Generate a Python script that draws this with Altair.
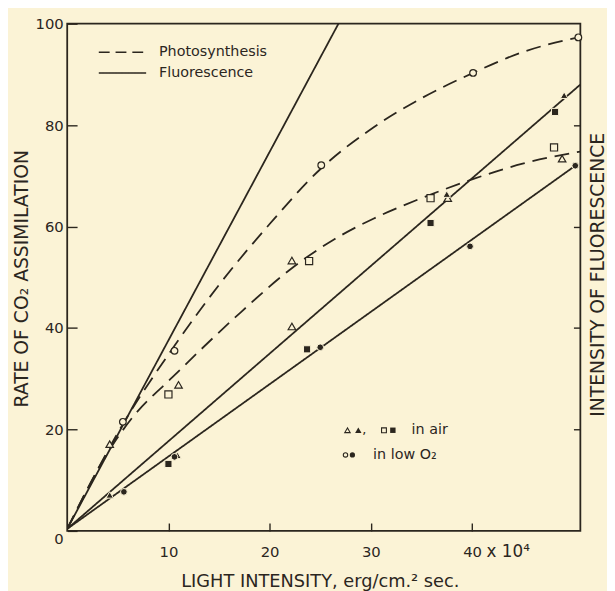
import altair as alt
import pandas as pd

# ---------------- data (light intensity in 10^4 erg/cm2 sec) ----------------
# curves
fl_steep_x = [0, 26.8]
fl_steep_y = [0.4, 100.0]
fl_air_x = [0, 50.7]
fl_air_y = [0.4, 88.0]
fl_lowo2_x = [0, 50.2]
fl_lowo2_y = [0.4, 72.0]
ps_lowo2_x = [0, 5.4, 10.6, 15.0, 20.0, 25.0, 30.0, 35.0, 40.0, 45.0, 50.5]
ps_lowo2_y = [0.4, 20.7, 36.5, 48.5, 60.5, 71.3, 79.2, 85.3, 90.2, 94.4, 97.3]
ps_air_x = [0, 4.5, 6.5, 10.4, 17.2, 22.0, 26.4, 30.3, 35.0, 40.0, 45.0, 50.7]
ps_air_y = [0.4, 17.0, 22.5, 30.3, 43.2, 51.5, 57.5, 61.6, 65.6, 69.3, 72.4, 74.8]

# measured points
open_tri_x = [4.2, 11.0, 22.2, 22.2, 37.6, 48.9]
open_tri_y = [17.1, 28.8, 53.3, 40.3, 65.6, 73.4]
open_sq_x = [10.0, 23.9, 35.9, 48.1]
open_sq_y = [26.9, 53.2, 65.6, 75.6]
open_circ_x = [5.5, 10.6, 25.1, 40.1, 50.5]
open_circ_y = [21.5, 35.5, 72.1, 90.3, 97.3]
fill_tri_x = [4.2, 10.9, 37.5, 49.1]
fill_tri_y = [7.1, 14.9, 66.4, 85.9]
fill_sq_x = [10.0, 23.7, 35.9, 48.2]
fill_sq_y = [13.2, 35.8, 60.7, 82.6]
fill_circ_x = [5.6, 10.6, 25.0, 39.8, 50.2]
fill_circ_y = [7.7, 14.6, 36.2, 56.1, 72.0]

x_ticks = [10, 20, 30, 40]
y_ticks = [0, 20, 40, 60, 80, 100]
right_ticks = [20, 40, 60, 80]

# ---------------- tables ----------------
curves = [
    ("fl_steep", "Fluorescence", fl_steep_x, fl_steep_y),
    ("fl_air", "Fluorescence", fl_air_x, fl_air_y),
    ("fl_lowo2", "Fluorescence", fl_lowo2_x, fl_lowo2_y),
    ("ps_lowo2", "Photosynthesis", ps_lowo2_x, ps_lowo2_y),
    ("ps_air", "Photosynthesis", ps_air_x, ps_air_y),
]
rows = []
for name, kind, xs, ys in curves:
    for i, (a, b) in enumerate(zip(xs, ys)):
        rows.append({"curve": name, "kind": kind, "x": a, "y": b, "o": i})
lines_df = pd.DataFrame(rows)

pts = []
for shape, fill, xs, ys in [
    ("triangle-up", "open", open_tri_x, open_tri_y),
    ("square", "open", open_sq_x, open_sq_y),
    ("circle", "open", open_circ_x, open_circ_y),
    ("triangle-up", "filled", fill_tri_x, fill_tri_y),
    ("square", "filled", fill_sq_x, fill_sq_y),
    ("circle", "filled", fill_circ_x, fill_circ_y),
]:
    for a, b in zip(xs, ys):
        pts.append({"shape": shape, "fill": fill, "x": a, "y": b})
pts_df = pd.DataFrame(pts)

# ---------------- style ----------------
INK = "#2b261e"
BG = "#fbf3d6"
FONT = "DejaVu Sans"
W, H = 520, 514

xscale = alt.Scale(domain=[0, 50.7], nice=False, zero=True)
yscale = alt.Scale(domain=[0, 100], nice=False, zero=True)

x_axis = alt.Axis(
    values=x_ticks, offset=-8, domain=False, grid=False,
    tickSize=8, tickWidth=1.4, tickColor=INK,
    labelPadding=14, labelFont=FONT, labelFontSize=15, labelColor=INK,
    title="LIGHT INTENSITY, erg/cm.² sec.", titleFont=FONT, titleFontSize=18,
    titleFontWeight="normal", titleColor=INK, titleX=256, titleY=59,
    titleBaseline="middle", titleAlign="center",
)
left_axis = alt.Axis(
    values=y_ticks, offset=-10, domain=False, grid=False,
    tickSize=10, tickWidth=1.4, tickColor=INK,
    labelPadding=4, labelFont=FONT, labelFontSize=15, labelColor=INK,
    labelOffset={"condition": {"test": "datum.value === 0", "value": 8}, "value": 0},
    title="RATE OF CO₂ ASSIMILATION", titleFont=FONT, titleFontSize=19,
    titleFontWeight="normal", titleColor=INK, titleX=-56, titleY=258,
    titleAngle=270, titleBaseline="middle", titleAlign="center",
)
right_axis = alt.Axis(
    orient="right", values=right_ticks, offset=-7, domain=False, grid=False,
    tickSize=7, tickWidth=1.4, tickColor=INK, labels=False,
    title="INTENSITY OF FLUORESCENCE", titleFont=FONT, titleFontSize=19,
    titleFontWeight="normal", titleColor=INK, titleX=24, titleY=254,
    titleAngle=270, titleBaseline="middle", titleAlign="center",
)

X = alt.X("x:Q", scale=xscale, axis=x_axis)

lines = alt.Chart(lines_df).mark_line(
    interpolate="monotone", strokeWidth=1.8, color=INK, clip=True
).encode(
    x=X,
    y=alt.Y("y:Q", scale=yscale, axis=left_axis),
    detail="curve:N",
    order="o:Q",
    strokeDash=alt.StrokeDash(
        "kind:N",
        scale=alt.Scale(domain=["Photosynthesis", "Fluorescence"], range=[[15, 8], [1, 0]]),
        legend=None,
    ),
)

shape_scale = alt.Scale(domain=["triangle-up", "square", "circle"],
                        range=["triangle-up", "square", "circle"])
open_size = alt.Scale(domain=["triangle-up", "square", "circle"], range=[58, 46, 36])
filled_size = alt.Scale(domain=["triangle-up", "square", "circle"], range=[80, 58, 52])

open_pts = alt.Chart(pts_df).transform_filter("datum.fill === 'open'").mark_point(
    filled=True, fill=BG, stroke=INK, strokeWidth=1.2, opacity=1
).encode(
    x=X,
    y=alt.Y("y:Q", scale=yscale, axis=right_axis),
    shape=alt.Shape("shape:N", scale=shape_scale, legend=None),
    size=alt.Size("shape:N", scale=open_size, legend=None),
)

filled_pts = alt.Chart(pts_df).transform_filter("datum.fill === 'filled'").mark_point(
    filled=True, fill=INK, stroke=BG, strokeWidth=1.0, opacity=1
).encode(
    x=X,
    y=alt.Y("y:Q", scale=yscale, axis=None),
    shape=alt.Shape("shape:N", scale=shape_scale, legend=None),
    size=alt.Size("shape:N", scale=filled_size, legend=None),
)


def label(text, x, y, size, align="left"):
    return alt.Chart(pd.DataFrame({"t": [text]})).mark_text(
        font=FONT, fontSize=size, color=INK, align=align, baseline="middle"
    ).encode(text="t:N", x=alt.value(x), y=alt.value(y))


def key_line(x1, x2, y, dash):
    return alt.Chart(pd.DataFrame({"k": [0]})).mark_rule(
        color=INK, strokeWidth=1.6, strokeDash=dash
    ).encode(x=alt.value(x1), x2=alt.value(x2), y=alt.value(y))


def key_symbol(shape, filled, x, y, size):
    if filled:
        mark = alt.Chart(pd.DataFrame({"k": [0]})).mark_point(
            shape=shape, filled=True, fill=INK, strokeWidth=0, opacity=1, size=size)
    else:
        mark = alt.Chart(pd.DataFrame({"k": [0]})).mark_point(
            shape=shape, filled=False, stroke=INK, strokeWidth=1.1, opacity=1, size=size)
    return mark.encode(x=alt.value(x), y=alt.value(y))


annotations = [
    key_line(32, 79, 29, [11, 6]),
    label("Photosynthesis", 93, 29, 14.5),
    key_line(32, 80, 50, [1, 0]),
    label("Fluorescence", 93, 50, 14.5),
    key_symbol("triangle-up", False, 284, 412, 30),
    key_symbol("triangle-up", True, 295, 412, 42),
    label(",", 299, 412, 13),
    key_symbol("square", False, 321, 412, 24),
    key_symbol("square", True, 330, 412, 30),
    label("in air", 349, 412, 14.5),
    key_symbol("circle", False, 282, 437, 20),
    key_symbol("circle", True, 289, 437, 28),
    label("in low O₂", 310, 437, 14.5),
    label("x 10⁴", 425, 535, 17),
]

chart = alt.layer(lines, open_pts, filled_pts, *annotations).resolve_axis(
    y="independent"
).properties(
    width=W, height=H,
    padding={"left": 60, "top": 12, "right": 27, "bottom": 57},
    autosize=alt.AutoSizeParams(type="none"),
    background=BG,
).configure_view(stroke=INK, strokeWidth=1.8)

chart.save("out.html", embed_options={"renderer": "svg", "actions": False})
